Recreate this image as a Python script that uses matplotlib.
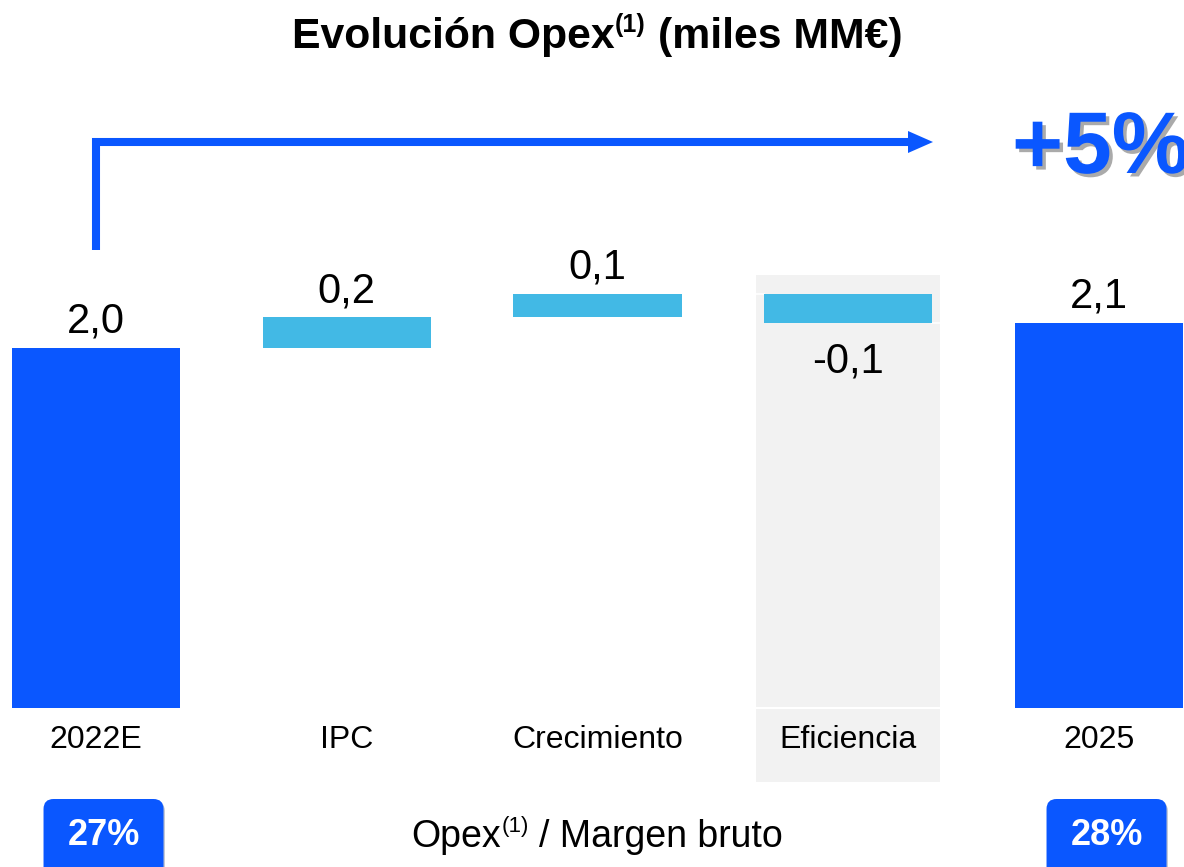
import matplotlib
matplotlib.use('Agg')
import matplotlib.pyplot as plt
from matplotlib.patches import FancyBboxPatch, Rectangle, Polygon
from matplotlib.transforms import IdentityTransform
import matplotlib.patheffects as pe

# ---- data ----
categories = ['2022E', 'IPC', 'Crecimiento', 'Eficiencia', '2025']
values = [2.0, 0.17, 0.13, -0.16, 2.14]
value_labels = ['2,0', '0,2', '0,1', '-0,1', '2,1']
is_total = [True, False, False, False, True]
ratio_labels = ['27%', '28%']
growth_label = '+5%'
highlight = 'Eficiencia'

DARK = '#0A57FF'
LIGHT = '#42B9E5'
GRAY = '#F2F2F2'
plt.rcParams['font.family'] = ['Liberation Sans', 'DejaVu Sans']

W, H = 1184, 867
fig = plt.figure(figsize=(W / 100, H / 100), dpi=100)
ax = fig.add_axes([0, 0, 1, 1])
ax.axis('off')

X0, DX, Y0, DY = 96, 250.75, 708, 180


def px2x(px):
    return (px - X0) / DX


def py2y(py):
    return (Y0 - py) / DY


ax.set_xlim(px2x(0), px2x(W))
ax.set_ylim(py2y(H), py2y(0))

x = list(range(len(categories)))
bottoms, heights, colors, levels = [], [], [], []
running = 0.0
for v, tot in zip(values, is_total):
    if tot:
        bottoms.append(0.0)
        heights.append(v)
        running = v
        colors.append(DARK)
    else:
        bottoms.append(running)
        heights.append(v)
        running += v
        colors.append(LIGHT)
    levels.append(running)

bw = 0.67

# highlight background
hi = categories.index(highlight)
ax.add_patch(Rectangle((hi - 0.367, py2y(782)), 0.734, py2y(275) - py2y(782),
                       facecolor=GRAY, edgecolor='none', zorder=0))
ax.axhline(0, color='white', lw=1.5, zorder=1)
for i in range(len(x) - 1):
    ax.plot([x[i] + bw / 2, x[i + 1] - bw / 2], [levels[i], levels[i]],
            color='white', lw=1.2, zorder=1)

ax.bar(x, heights, bottom=bottoms, width=bw, color=colors, zorder=2)

# value labels
for i, (b, h, lab) in enumerate(zip(bottoms, heights, value_labels)):
    if h >= 0:
        ax.text(x[i], b + h + 15 / DY, lab, ha='center', va='baseline', fontsize=30)
    else:
        ax.text(x[i], b + h - 50 / DY, lab, ha='center', va='baseline', fontsize=30)

# category labels
for i, c in enumerate(categories):
    ax.text(x[i], py2y(748), c, ha='center', va='baseline', fontsize=23)

# arrow
ay = py2y(142)
ax.plot([0, 0, px2x(910)], [py2y(250), ay, ay], color=DARK, lw=5.8,
        solid_joinstyle='miter', solid_capstyle='butt', zorder=3)
ax.add_patch(Polygon([(px2x(908), py2y(131)), (px2x(933), ay), (px2x(908), py2y(153))],
                     closed=True, facecolor=DARK, edgecolor='none', zorder=3))

ax.text(px2x(1012), py2y(173), growth_label, ha='left', va='baseline', fontsize=63,
        fontweight='bold', color=DARK, zorder=4,
        path_effects=[pe.SimplePatchShadow(offset=(2.5, -2.5), shadow_rgbFace='#444444', alpha=0.45),
                      pe.Normal()])

# ratio boxes
box_w = 120 / DX
for idx, lab in zip([0, len(categories) - 1], ratio_labels):
    cx = x[idx] + 0.03
    ax.add_patch(FancyBboxPatch((cx - box_w / 2, py2y(880)), box_w, py2y(799) - py2y(880),
                                boxstyle='round,pad=0,rounding_size=0.04',
                                mutation_aspect=DX / DY,
                                facecolor=DARK, edgecolor='none', zorder=3,
                                path_effects=[pe.SimplePatchShadow(offset=(1, -1.5), alpha=0.25),
                                              pe.Normal()]))
    ax.text(cx, py2y(845), lab, ha='center', va='baseline', fontsize=26,
            fontweight='bold', color='white', zorder=4)


def rich(segments, cx, baseline_py, color='black'):
    renderer = fig.canvas.get_renderer()
    arts, widths = [], []
    for s, size, weight, rise, gap in segments:
        t = fig.text(0, 0, s, fontsize=size, fontweight=weight, color=color,
                     transform=IdentityTransform(), ha='left', va='baseline')
        arts.append(t)
        widths.append(t.get_window_extent(renderer).width)
    total = sum(widths) + sum(s[4] for s in segments)
    xc = cx - total / 2
    by = H - baseline_py
    for t, w, s in zip(arts, widths, segments):
        xc += s[4]
        t.set_position((xc, by + s[3]))
        xc += w


rich([('Evolución Opex', 30.8, 'bold', 0, 0),
      ('(1)', 18, 'bold', 16, 1),
      ('(miles MM€)', 30.8, 'bold', 0, 12)], 597, 48)

rich([('Opex', 27, 'normal', 0, 0),
      ('(1)', 16, 'normal', 15, 1),
      ('/ Margen bruto', 27, 'normal', 0, 10)], 597, 847)

fig.savefig('out.png', dpi=100)
